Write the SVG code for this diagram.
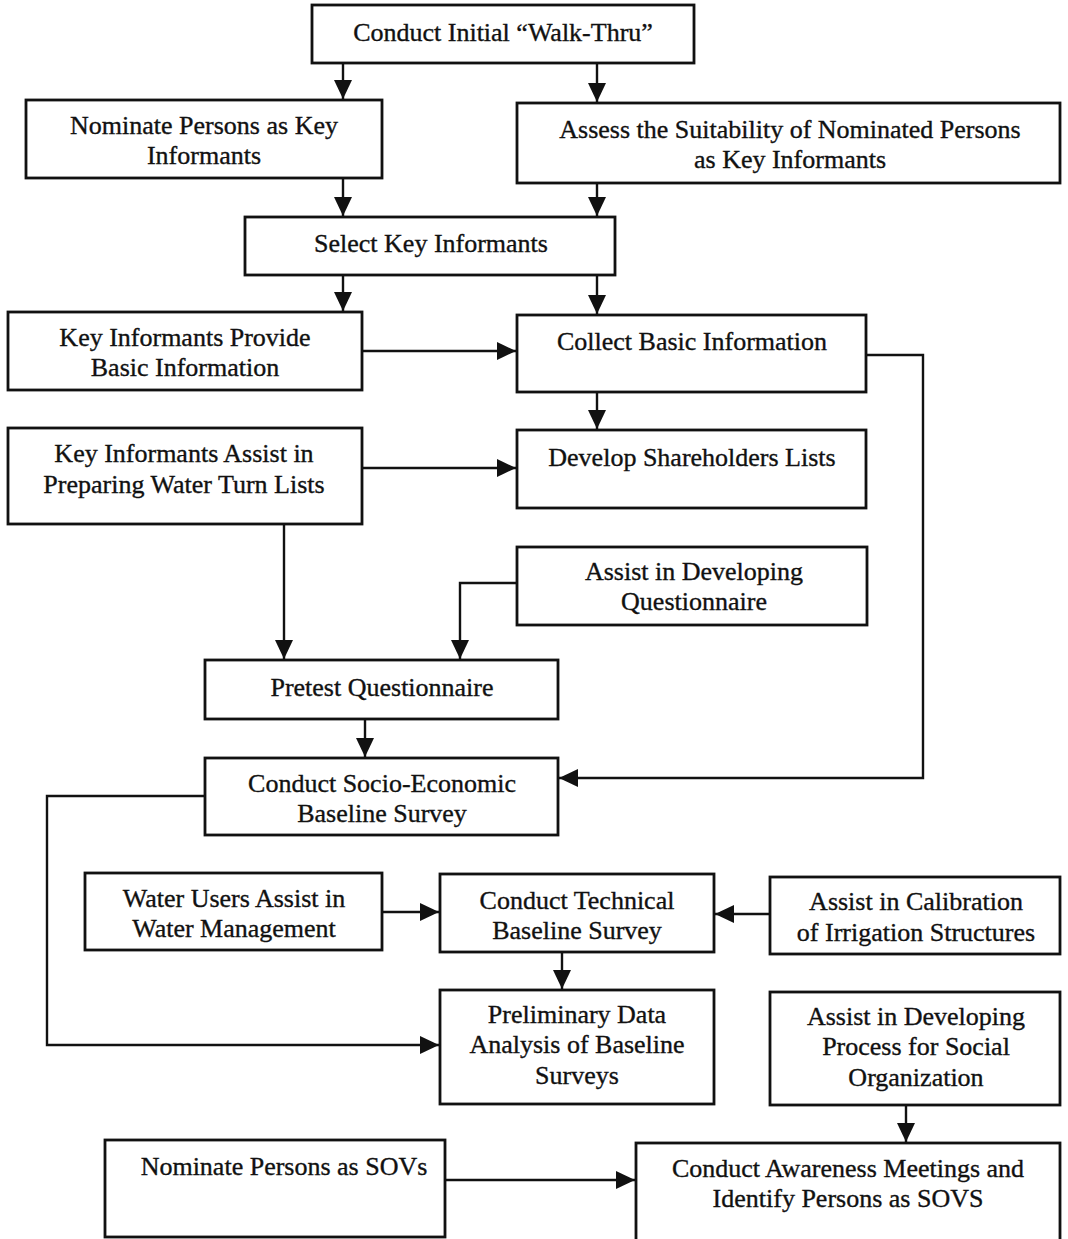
<svg xmlns="http://www.w3.org/2000/svg" width="1068" height="1239" viewBox="0 0 1068 1239">
<style>
.box{fill:#fff;stroke:#111;stroke-width:2.8}
.t{font-family:"Liberation Serif","Times New Roman",serif;font-size:26px;fill:#111;stroke:#111;stroke-width:0.35;text-anchor:middle}
.c{fill:none;stroke:#111;stroke-width:2.4}
</style>
<defs>
<marker id="ah" markerUnits="userSpaceOnUse" markerWidth="20" markerHeight="20" refX="19" refY="9" orient="auto">
<path d="M0,0 L19,9 L0,18 z" fill="#111"/>
</marker>
</defs>
<rect width="1068" height="1239" fill="#fff"/>
<g id="connectors">
<path class="c" d="M343,63 V99" marker-end="url(#ah)"/>
<path class="c" d="M597,63 V102" marker-end="url(#ah)"/>
<path class="c" d="M343,178 V216" marker-end="url(#ah)"/>
<path class="c" d="M597,183 V216" marker-end="url(#ah)"/>
<path class="c" d="M343,275 V311" marker-end="url(#ah)"/>
<path class="c" d="M597,275 V314" marker-end="url(#ah)"/>
<path class="c" d="M362,351 H516" marker-end="url(#ah)"/>
<path class="c" d="M597,392 V429" marker-end="url(#ah)"/>
<path class="c" d="M362,468 H516" marker-end="url(#ah)"/>
<path class="c" d="M284,524 V659" marker-end="url(#ah)"/>
<path class="c" d="M517,583 H460 V659" marker-end="url(#ah)"/>
<path class="c" d="M365,719 V757" marker-end="url(#ah)"/>
<path class="c" d="M866,355 H923 V778 H559" marker-end="url(#ah)"/>
<path class="c" d="M205,796 H47 V1045 H439" marker-end="url(#ah)"/>
<path class="c" d="M382,912 H439" marker-end="url(#ah)"/>
<path class="c" d="M770,914 H715" marker-end="url(#ah)"/>
<path class="c" d="M562,952 V989" marker-end="url(#ah)"/>
<path class="c" d="M906,1105 V1142" marker-end="url(#ah)"/>
<path class="c" d="M445,1180 H635" marker-end="url(#ah)"/>
</g>
<g id="n1"><rect class="box" x="312" y="5" width="382" height="58"/><text class="t" x="503" y="41">Conduct Initial “Walk-Thru”</text></g>
<g id="n2"><rect class="box" x="26" y="100" width="356" height="78"/><text class="t" x="204" y="134">Nominate Persons as Key</text><text class="t" x="204" y="164">Informants</text></g>
<g id="n3"><rect class="box" x="517" y="103" width="543" height="80"/><text class="t" x="790" y="138">Assess the Suitability of Nominated Persons</text><text class="t" x="790" y="168">as Key Informants</text></g>
<g id="n4"><rect class="box" x="245" y="217" width="370" height="58"/><text class="t" x="431" y="252">Select Key Informants</text></g>
<g id="n5"><rect class="box" x="8" y="312" width="354" height="78"/><text class="t" x="185" y="346">Key Informants Provide</text><text class="t" x="185" y="376">Basic Information</text></g>
<g id="n6"><rect class="box" x="517" y="315" width="349" height="77"/><text class="t" x="692" y="350">Collect Basic Information</text></g>
<g id="n7"><rect class="box" x="8" y="428" width="354" height="96"/><text class="t" x="184" y="462">Key Informants Assist in</text><text class="t" x="184" y="493">Preparing Water Turn Lists</text></g>
<g id="n8"><rect class="box" x="517" y="430" width="349" height="78"/><text class="t" x="692" y="466">Develop Shareholders Lists</text></g>
<g id="n9"><rect class="box" x="517" y="547" width="350" height="78"/><text class="t" x="694" y="580">Assist in Developing</text><text class="t" x="694" y="610">Questionnaire</text></g>
<g id="n10"><rect class="box" x="205" y="660" width="353" height="59"/><text class="t" x="382" y="696">Pretest Questionnaire</text></g>
<g id="n11"><rect class="box" x="205" y="758" width="353" height="77"/><text class="t" x="382" y="792">Conduct Socio-Economic</text><text class="t" x="382" y="822">Baseline Survey</text></g>
<g id="n12"><rect class="box" x="85" y="873" width="297" height="77"/><text class="t" x="234" y="907">Water Users Assist in</text><text class="t" x="234" y="937">Water Management</text></g>
<g id="n13"><rect class="box" x="440" y="874" width="274" height="78"/><text class="t" x="577" y="909">Conduct Technical</text><text class="t" x="577" y="939">Baseline Survey</text></g>
<g id="n14"><rect class="box" x="770" y="877" width="290" height="77"/><text class="t" x="916" y="910">Assist in Calibration</text><text class="t" x="916" y="941">of Irrigation Structures</text></g>
<g id="n15"><rect class="box" x="440" y="990" width="274" height="114"/><text class="t" x="577" y="1023">Preliminary Data</text><text class="t" x="577" y="1053">Analysis of Baseline</text><text class="t" x="577" y="1084">Surveys</text></g>
<g id="n16"><rect class="box" x="770" y="992" width="290" height="113"/><text class="t" x="916" y="1025">Assist in Developing</text><text class="t" x="916" y="1055">Process for Social</text><text class="t" x="916" y="1086">Organization</text></g>
<g id="n17"><rect class="box" x="105" y="1140" width="340" height="97"/><text class="t" x="284" y="1175">Nominate Persons as SOVs</text></g>
<g id="n18"><rect class="box" x="636" y="1143" width="424" height="100"/><text class="t" x="848" y="1177">Conduct Awareness Meetings and</text><text class="t" x="848" y="1207">Identify Persons as SOVS</text></g>
</svg>
